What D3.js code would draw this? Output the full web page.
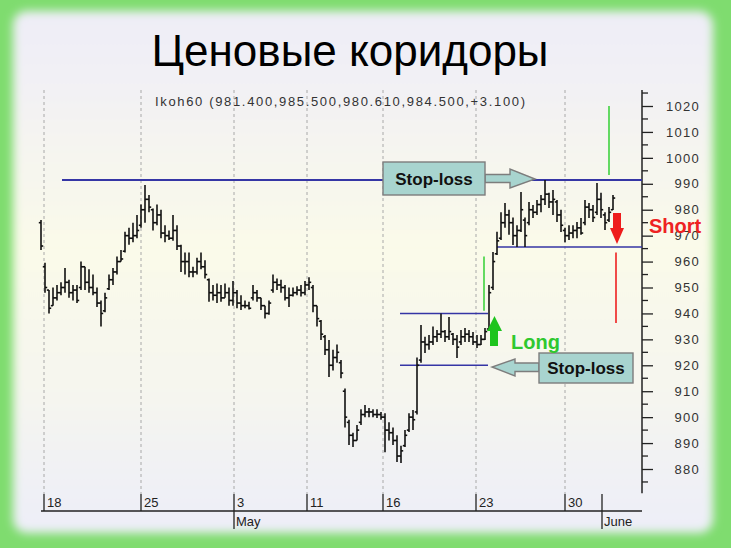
<!DOCTYPE html>
<html><head><meta charset="utf-8">
<script src="https://cdn.jsdelivr.net/npm/d3@7"></script>
<style>html,body{margin:0;padding:0;overflow:hidden;background:#7fdc6f}</style>
</head><body><svg id="c" width="731" height="548"></svg>
<script>
const title = "Ценовые коридоры";
const subtitle = "Ikoh60 (981.400,985.500,980.610,984.500,+3.100)";

const barOpen = [975,958,949,943,946,948,950,952,948,949,
950,958,952,950,948,944,941,949.5,953,956,
960,964,970,969,970,974,980,984,980,975,
978,971,970,969,972,966,960,960,956,956,
960,958,953,948,947,948,946,948,945,948,
944,943,943,946,948,946,943,940,949,952,
951,950,946,947,948,949,948,951,950,943,
937,931,926,920,923,921,910,898,893,891,
898,901,902,902,901,901,900,895,894,891,
885,889,895,900,902,922,929,928,929,931,
932,933,931,932,930,929,931,932,931,929,
928,930,934,950,963,969,975,978,975,970,
972,976,975,980,979,982,984,986,983,983,
978,972,970,971,972,973,975,981,980,979,
984,978,976,980];
const barHigh = [976,959.5,949,950,951,952,957.5,953,951,951,
960,958,957,955,950,945,948,955,957.5,962,
964.5,971.5,973,975,978,982,989.5,985.7,980.5,982,
980,974,972,978,974,966.5,963.5,963.5,958,961.5,
963.5,960.5,953.5,951,951.5,951,951.5,950,952.5,949,
947,945,944.5,951,949,946,943,945,955,953.5,
953,951,950,950,950.5,951,952.5,954,951,943,
937.5,931.7,929.8,926,928,922,911,899,894,897,
903,904.7,903.5,903,903,902,901.5,898,896,893,
889,895,901.5,902.8,923,935.5,931,931.7,935,933.6,
940,933.6,938.6,932.5,931.7,933.6,934.4,933.6,932.8,931.7,
931.7,934.4,951,963.7,971.5,979,982.6,980,977,974,
986.8,977,983,981.8,983.7,985.7,991.5,986.5,987.6,983.7,
980,973,974,974,975.3,976.8,983.7,982.6,981.8,990.3,
986.5,979,981,985.7];
const barLow = [964.5,948,940,943,945,947,948,946,945,944,
949,949,948,947,942.5,935,940.5,949,951,955,
960,963.5,966.5,967.5,969,973,975,979,972,974,
969,967.5,968.3,968,964.5,956,955,954,954,955,
957,953.5,944.5,945,944,944.5,946,943,943,942,
941.3,942,941.5,945,944.5,941.3,938,939.5,948,949,
948,945,942.5,946.5,947,946.5,947,949,940.5,935,
929.8,924,915.5,918,921,915,896,889.3,888.5,891,
897,900,900,900,899.7,899,886.5,891,889.3,882.7,
882.3,888.5,894.3,895,901,921,924.7,926,927.8,929,
930.5,929,929.8,927.8,922.8,927.8,929,929,927.8,926.7,
927.8,929.8,933.6,949,962.5,968.3,973,970.3,966.4,965.6,
971.4,965.6,974,976.8,978,979,981.8,980.7,978,975.3,
971.4,967.5,968.3,969,969,970.3,974,976.8,975.3,978,
976.8,972.2,975.3,979.9];
const barClose = [966,950,942,946,948,950,952,948,949,945,
958,952,950,948,944,940,946,953,956,960,
961,970,969,970,972,980,984,981,975,978,
971,970,969,972,966,960,960,956,956,960,
958,955,948,947,948,946,948,945,948,944,
943,943,942,948,946,943,940,944,952,951,
950,946,947,948,949,948,951,952,943,938,
932,926,920,923,925,917,900,893,891,895,
901,902,902,901,901,900,895,894,891,885,
887,893,900,899,920,929,928,929,931,932,
933,931,933,930,927,931,932,931,929,928,
930,933,948,960,968,975,978,975,970,972,
980,970,980,979,982,984,986,983,984,978,
974,970,971,972,973,971,981,980,977,984,
980,975,979,984.5];

const priceLabels = [880,890,900,910,920,930,940,950,960,970,980,990,1000,1010,1020];
const priceMinor = [875,885,895,905,915,925,935,945,955,965,975,985,995,1005,1015,1025];
const dayLabels = ["18","25","3","11","16","23","30"];
const dayPos = [0.75,25,48.25,66.5,85.5,108.75,131];
const monthLabels = ["May","June"];
const monthPos = [48.25,140.25];

// corridor levels: price, start index, end index
const levelPrice = [991.5, 965.6, 940, 920];
const levelFrom  = [5.25, 114, 89.75, 89.75];
const levelTo    = [150.25, 150.25, 111.75, 111.75];
const levelWidth = [2, 1.6, 1.6, 1.6];

// measured-move markers: index, price from, price to, colour
const moveIdx  = [142, 110.75, 143.75];
const moveFrom = [1020, 962, 963.5];
const moveTo   = [993.4, 941, 936.3];
const moveCol  = ["#3fd23f", "#3fd23f", "#ee2020"];

const FONT = "Liberation Sans, Arial, sans-serif";
const svg = d3.select("#c");
const defs = svg.append("defs");
const f = defs.append("filter").attr("id","blur").attr("x","-5%").attr("y","-5%").attr("width","110%").attr("height","110%");
f.append("feGaussianBlur").attr("stdDeviation",5);
const g = defs.append("linearGradient").attr("id","panel").attr("x1",0).attr("y1",0).attr("x2",0).attr("y2",1);
[["0","#eeedf7"],["0.15","#f2f1f4"],["0.45","#fafae9"],["0.7","#f6f6ee"],["1","#edeef8"]].forEach(s=>g.append("stop").attr("offset",s[0]).attr("stop-color",s[1]));

svg.append("rect").attr("width",731).attr("height",548).attr("fill","#7fdc6f");
svg.append("rect").attr("x",13).attr("y",11).attr("width",700).attr("height",522).attr("rx",14)
  .attr("fill","url(#panel)").attr("filter","url(#blur)");

const x = d3.scaleLinear().domain([0,150.25]).range([41,642]);
const y = d3.scaleLinear().domain([880,1020]).range([469,106]);

// title
svg.append("text").attr("x",350).attr("y",66).attr("text-anchor","middle")
  .attr("font-family",FONT).attr("font-size",44).attr("fill","#000").text(title);
svg.append("text").attr("x",155).attr("y",106).attr("font-family",FONT)
  .attr("font-size",13).attr("fill","#333").attr("textLength",370).attr("lengthAdjust","spacing").text(subtitle);

// vertical dashed grid
svg.append("g").selectAll("line").data(dayPos).join("line")
  .attr("x1",d=>x(d)).attr("x2",d=>x(d)).attr("y1",90).attr("y2",494)
  .attr("stroke","#a8a8a8").attr("stroke-width",1).attr("stroke-dasharray","3,3");

// y axis
const ya = svg.append("g").attr("transform",`translate(${x(150.25)},0)`);
ya.append("line").attr("y1",y(1026.2)).attr("y2",y(870.6)).attr("stroke","#222").attr("stroke-width",1.5);
ya.call(d3.axisRight(y).tickValues(priceLabels).tickSize(11).tickPadding(4).tickFormat(d3.format("d")));
ya.select(".domain").remove();
ya.selectAll(".tick line").attr("stroke","#222").attr("stroke-width",1.3);
ya.selectAll(".tick text").attr("x",58).attr("text-anchor","end").attr("font-size",13)
  .attr("font-family",FONT).attr("fill","#333").attr("letter-spacing","1.3px");
ya.append("g").selectAll("line").data(priceMinor).join("line")
  .attr("x1",0).attr("x2",6).attr("y1",d=>y(d)).attr("y2",d=>y(d)).attr("stroke","#222").attr("stroke-width",1.3);

// x axis
const xa = svg.append("g");
xa.append("line").attr("x1",x(0)).attr("x2",x(150.25)).attr("y1",511).attr("y2",511).attr("stroke","#222").attr("stroke-width",1.6);
xa.selectAll(".dt").data(dayPos).join("line").attr("class","dt")
  .attr("x1",d=>x(d)).attr("x2",d=>x(d)).attr("y1",494).attr("y2",d=>monthPos.includes(d)?529:511)
  .attr("stroke","#222").attr("stroke-width",1.3);
xa.selectAll(".dl").data(dayLabels).join("text").attr("class","dl")
  .attr("x",(d,i)=>x(dayPos[i])+3).attr("y",507).attr("font-size",13)
  .attr("font-family",FONT).attr("fill","#222").text(d=>d);
xa.append("line").attr("x1",x(monthPos[1])).attr("x2",x(monthPos[1])).attr("y1",494).attr("y2",529).attr("stroke","#222").attr("stroke-width",1.3);
xa.selectAll(".ml").data(monthLabels).join("text").attr("class","ml")
  .attr("x",(d,i)=>x(monthPos[i])+2).attr("y",526).attr("font-size",13)
  .attr("font-family",FONT).attr("fill","#222").text(d=>d);

// corridor lines
svg.append("g").selectAll("line").data(levelPrice).join("line")
  .attr("x1",(d,i)=>x(levelFrom[i])).attr("x2",(d,i)=>x(levelTo[i]))
  .attr("y1",d=>y(d)).attr("y2",d=>y(d)).attr("stroke","#3535a5").attr("stroke-width",(d,i)=>levelWidth[i]);

// OHLC bars
const bars = svg.append("g").attr("stroke","#111").attr("stroke-width",1.6);
barHigh.forEach((h,i)=>{
  const cx = x(i);
  bars.append("line").attr("x1",cx).attr("x2",cx).attr("y1",y(h)).attr("y2",y(barLow[i]));
  bars.append("line").attr("x1",cx-2.2).attr("x2",cx).attr("y1",y(barOpen[i])).attr("y2",y(barOpen[i]));
  bars.append("line").attr("x1",cx).attr("x2",cx+2.2).attr("y1",y(barClose[i])).attr("y2",y(barClose[i]));
});

// measured move lines
svg.append("g").selectAll("line").data(moveIdx).join("line")
  .attr("x1",d=>x(d)).attr("x2",d=>x(d)).attr("y1",(d,i)=>y(moveFrom[i])).attr("y2",(d,i)=>y(moveTo[i]))
  .attr("stroke",(d,i)=>moveCol[i]).attr("stroke-width",1.6);

// arrows
function poly(pts, fill, stroke){
  svg.append("path").attr("d","M"+pts.map(p=>p.join(",")).join("L")+"Z")
    .attr("fill",fill).attr("stroke",stroke||"none").attr("stroke-width",1.4);
}
poly([[490,346],[490,331],[487,331],[494.5,316],[502,331],[498,331],[498,346]],"#1ec41e");
poly([[613,213],[621,213],[621,228],[624,228],[617,244],[610,228],[613,228]],"#ee1c1c");

// stop-loss callouts
const boxFill = "#a8d4cf", boxStroke = "#7d7d7d";
poly([[485,174.5],[510,174.5],[510,169],[535,179],[510,188],[510,182.5],[485,182.5]],boxFill,boxStroke);
svg.append("rect").attr("x",383).attr("y",162).attr("width",102).attr("height",33).attr("fill",boxFill).attr("stroke",boxStroke).attr("stroke-width",1.4);
svg.append("text").attr("x",434).attr("y",184.5).attr("text-anchor","middle").attr("font-weight","bold")
  .attr("font-family",FONT).attr("font-size",17).attr("fill","#111").text("Stop-loss");

poly([[539,363],[515,363],[515,359],[492,367],[515,376],[515,371.5],[539,371.5]],boxFill,boxStroke);
svg.append("rect").attr("x",539).attr("y",353).attr("width",94).attr("height",30).attr("fill",boxFill).attr("stroke",boxStroke).attr("stroke-width",1.4);
svg.append("text").attr("x",586).attr("y",374).attr("text-anchor","middle").attr("font-weight","bold")
  .attr("font-family",FONT).attr("font-size",17).attr("fill","#111").text("Stop-loss");

svg.append("text").attr("x",511).attr("y",349).attr("font-weight","bold")
  .attr("font-family",FONT).attr("font-size",20).attr("fill","#2fc82f").text("Long");
svg.append("text").attr("x",649).attr("y",233).attr("font-weight","bold")
  .attr("font-family",FONT).attr("font-size",20).attr("fill","#ee2222").text("Short");
</script></body></html>
